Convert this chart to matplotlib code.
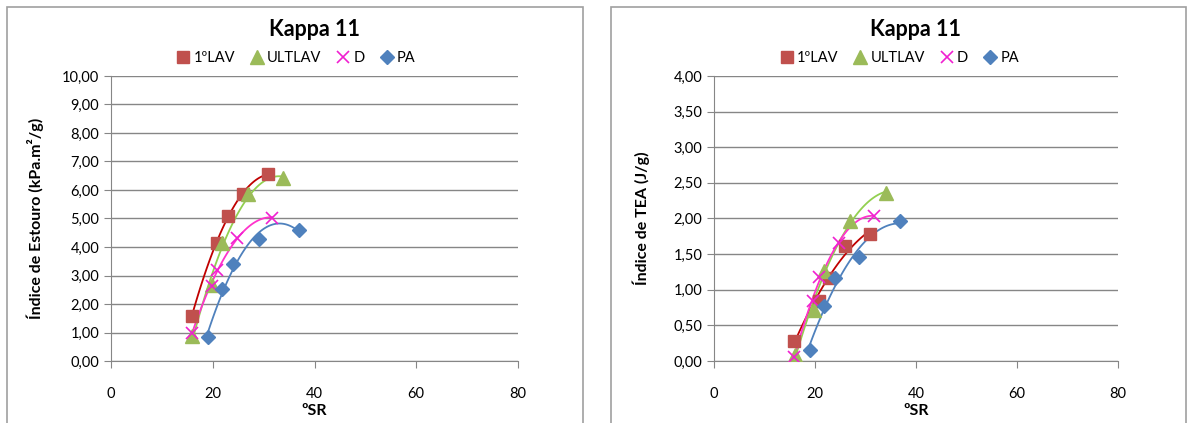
import numpy as np
import matplotlib
matplotlib.use('Agg')
import matplotlib.pyplot as plt
from matplotlib.patches import Rectangle
from matplotlib.ticker import FuncFormatter, MultipleLocator

plt.rcParams['font.family'] = ['Lato', 'DejaVu Sans']

series_names = ['1ºLAV', 'ULTLAV', 'D', 'PA']

# left chart: burst index
burst_sr = {
    '1ºLAV': [15.9, 20.8, 22.9, 25.9, 30.8],
    'ULTLAV': [16.0, 19.9, 21.8, 26.9, 33.9],
    'D': [15.9, 19.9, 20.8, 24.7, 31.7],
    'PA': [19.0, 21.9, 24.0, 29.0, 36.9],
}
burst_val = {
    '1ºLAV': [1.59, 4.15, 5.08, 5.85, 6.55],
    'ULTLAV': [0.88, 2.65, 4.15, 5.87, 6.42],
    'D': [1.00, 2.63, 3.20, 4.32, 5.03],
    'PA': [0.84, 2.52, 3.40, 4.28, 4.60],
}

# right chart: TEA index
tea_sr = {
    '1ºLAV': [15.8, 20.8, 22.8, 25.9, 30.8],
    'ULTLAV': [16.0, 19.8, 21.7, 26.9, 34.0],
    'D': [15.9, 19.6, 20.8, 24.7, 31.6],
    'PA': [19.0, 21.8, 23.9, 28.8, 36.9],
}
tea_val = {
    '1ºLAV': [0.28, 0.84, 1.17, 1.62, 1.78],
    'ULTLAV': [0.08, 0.71, 1.26, 1.97, 2.36],
    'D': [0.06, 0.84, 1.18, 1.65, 2.04],
    'PA': [0.16, 0.77, 1.17, 1.46, 1.96],
}

marker_style = {
    '1ºLAV': dict(marker='s', color='#C0504D', ms=9),
    'ULTLAV': dict(marker='^', color='#9BBB59', ms=10),
    'D': dict(marker='x', color='#F020D0', ms=9, mew=1.2),
    'PA': dict(marker='D', color='#4F81BD', ms=7),
}
trend_color = {
    '1ºLAV': '#C00000',
    'ULTLAV': '#92D050',
    'D': '#FF33CC',
    'PA': '#4F81BD',
}

W, H = 1188, 423
fig = plt.figure(figsize=(W / 100, H / 100), dpi=100)


def comma(v, pos):
    return f'{v:.2f}'.replace('.', ',')


def draw_chart(box_x0, box_x1, ax_x0, ax_x1, xs, ys, ymax, ystep, ylabel, ypad):
    fig.patches.append(Rectangle((box_x0 / W, -0.1), (box_x1 - box_x0) / W,
                                 (H - 7) / H + 0.1, transform=fig.transFigure,
                                 fill=False, edgecolor='#A0A0A0', lw=1.2))
    ax = fig.add_axes([ax_x0 / W, (H - 361) / H, (ax_x1 - ax_x0) / W, (361 - 76) / H])
    for name in series_names:
        x = np.array(xs[name])
        y = np.array(ys[name])
        c = np.polyfit(x, y, 2)
        xx = np.linspace(x.min(), x.max(), 100)
        ax.plot(xx, np.polyval(c, xx), color=trend_color[name], lw=1.3, zorder=2)
        ax.plot(x, y, linestyle='none', label=name, zorder=3, **marker_style[name])
    ax.set_xlim(0, 80)
    ax.set_ylim(0, ymax)
    ax.xaxis.set_major_locator(MultipleLocator(20))
    ax.yaxis.set_major_locator(MultipleLocator(ystep))
    ax.yaxis.set_major_formatter(FuncFormatter(comma))
    ax.grid(axis='y', color='#868686', lw=1)
    ax.set_axisbelow(True)
    for s in ['top', 'right']:
        ax.spines[s].set_visible(False)
    for s in ['left', 'bottom']:
        ax.spines[s].set_color('#868686')
    ax.tick_params(colors='#868686', labelcolor='black', labelsize=10.5,
                   direction='out', length=5)
    ax.tick_params(axis='x', pad=14)
    ax.set_xlabel('ºSR', fontsize=11.5, fontweight='bold', labelpad=2)
    ax.set_ylabel(ylabel, fontsize=11.5, fontweight='bold', labelpad=ypad)
    ax.set_title('Kappa 11', fontsize=15.5, fontweight='bold', pad=29)
    cx = (box_x0 + box_x1) / 2 / W
    ax.legend(loc='center', bbox_to_anchor=(cx, (H - 58) / H),
              bbox_transform=fig.transFigure, ncol=4, frameon=False,
              fontsize=10.5, handletextpad=0.1, columnspacing=0.9,
              handlelength=1.2, borderpad=0)
    return ax


draw_chart(7, 583, 111, 518, burst_sr, burst_val, 10, 1,
           'Índice de Estouro (kPa.m²/g)', 13)
draw_chart(611, 1186, 714, 1118, tea_sr, tea_val, 4, 0.5,
           'Índice de TEA (J/g)', 17)

fig.savefig('out.png', dpi=100)
